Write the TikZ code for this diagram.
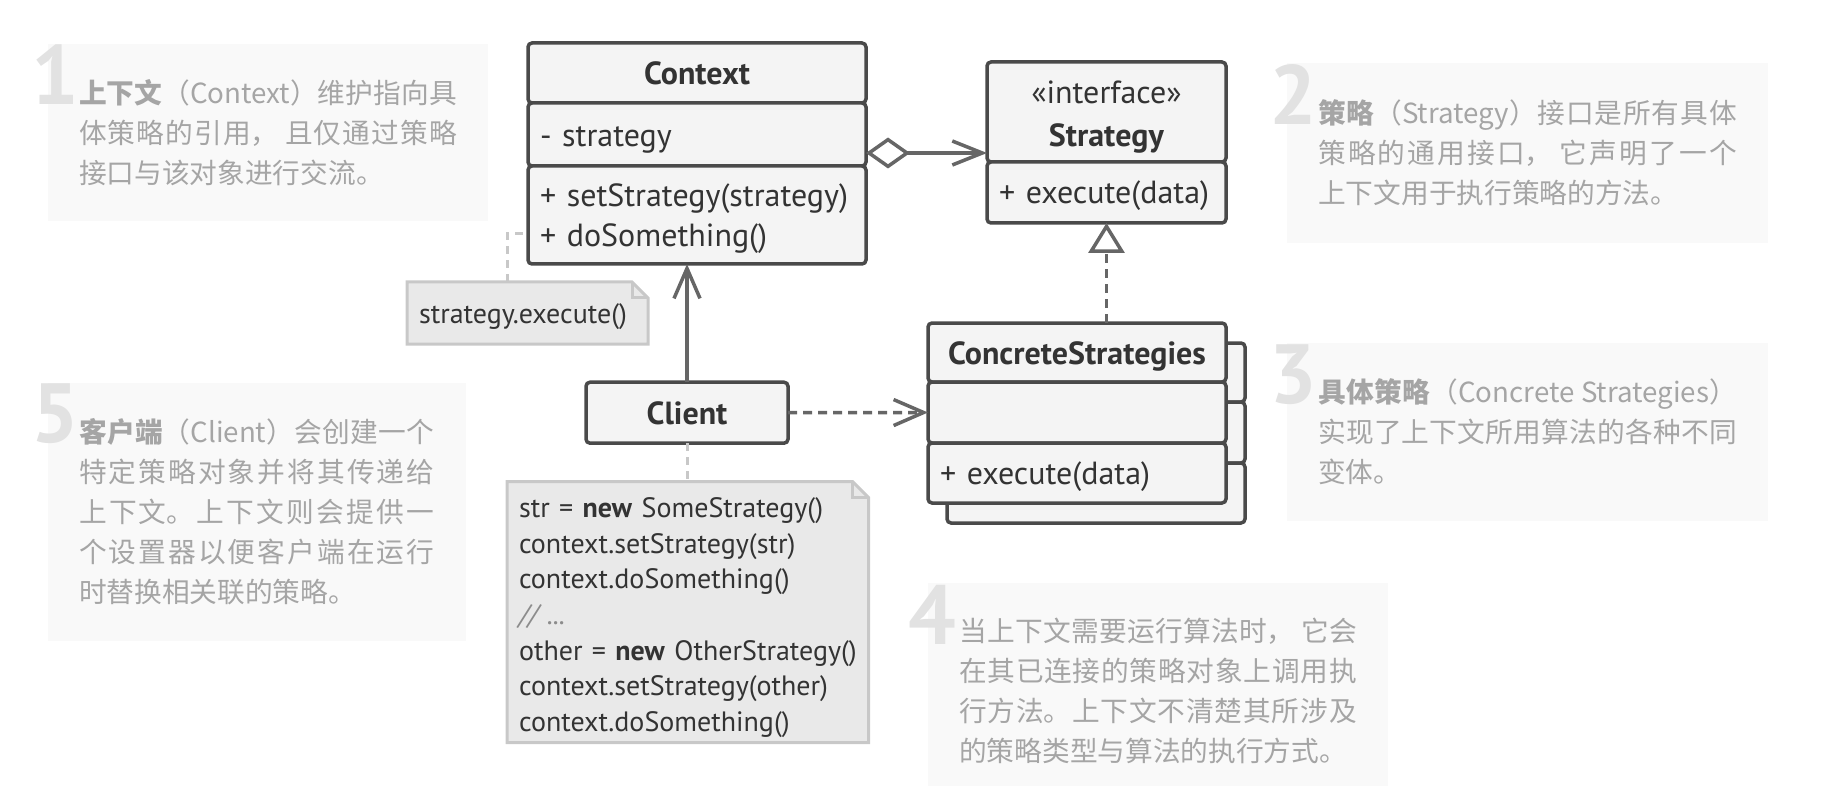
\documentclass[tikz,border=0pt]{standalone}
\usepackage{fontspec}
\setmainfont{PT Sans}
\newfontfamily\cjk{Noto Sans CJK SC}
\usetikzlibrary{arrows.meta, positioning, calc, backgrounds}

\definecolor{UmlLine}{RGB}{74,74,74}
\definecolor{UmlFill}{RGB}{244,244,244}
\definecolor{UmlText}{RGB}{51,51,51}
\definecolor{LinkGray}{RGB}{102,102,102}
\definecolor{NoteFill}{RGB}{233,233,233}
\definecolor{NoteLine}{RGB}{200,200,200}
\definecolor{ExplFill}{RGB}{249,249,249}
\definecolor{ExplText}{RGB}{165,165,165}
\definecolor{NumGray}{RGB}{226,226,226}
\definecolor{CommentGray}{RGB}{140,140,140}

\newcommand{\umlfont}{\fontsize{32}{39.6}\selectfont}
\newcommand{\codefont}{\fontsize{28}{35.7}\selectfont\hyphenpenalty=10000\relax}
\newcommand{\explfont}{\cjk\fontsize{27.7}{40}\selectfont
  \XeTeXlinebreaklocale "zh"\XeTeXlinebreakskip=0pt plus 8pt\tolerance=9999\relax}

\begin{document}
\begin{tikzpicture}[x=1pt, y=-1pt,
    uml/.style={draw=UmlLine, fill=UmlFill, line width=3.5pt, rounded corners=4pt,
                outer sep=0pt, text=UmlText, font=\umlfont},
    umlhead/.style={uml, align=center, inner sep=0pt,
                    execute at begin node={\rule{0pt}{24pt}}},
    umlpart/.style={uml, align=left, inner xsep=12pt, inner ysep=0pt,
                    execute at begin node={\rule{0pt}{30pt}}},
    codenote/.style={anchor=north west, outer sep=0pt, inner xsep=12pt, inner ysep=0pt,
                     align=left, text=UmlText, font=\codefont},
    notelink/.style={draw=NoteLine, line width=3pt, dash pattern=on 8pt off 6pt},
    link/.style={draw=LinkGray, line width=3.5pt},
    dashlink/.style={link, dash pattern=on 9pt off 6pt},
    openhead/.style={-{Straight Barb[length=30pt, width=26pt]}},
    expl/.style={fill=ExplFill, anchor=north west, inner xsep=31pt, inner ysep=0pt,
                 align=justify, text=ExplText, font=\explfont},
    numeral/.style={anchor=north west, inner sep=0pt, text=NumGray,
                    font=\fontsize{84}{84}\selectfont\bfseries}]
  \useasboundingbox (0,0) rectangle (1828,786);

  % explanations
  \node[expl, text width=378, minimum height=177] (expl1) at (47.8,44.3)
    {\textbf{上下文}（Context）维护指向具\linebreak
     体策略的引用， 且仅通过策略\linebreak
     接口与该对象进行交流。};
  \node[numeral] (num1) at (31,44.3) {1};

  \node[expl, text width=418.5, minimum height=179.5] (expl2) at (1287,63)
    {\textbf{策略}（Strategy）接口是所有具体\linebreak
     策略的通用接口， 它声明了一个\linebreak
     上下文用于执行策略的方法。};
  \node[numeral] (num2) at (1269,64) {2};

  \node[expl, text width=418.5, minimum height=178.3] (expl3) at (1287,342.7)
    {\textbf{具体策略}（Concrete Strategies）\linebreak
     实现了上下文所用算法的各种不同\linebreak
     变体。};
  \node[numeral] (num3) at (1269,344) {3};

  \node[expl, text width=397.5, minimum height=216] (expl4) at (928,583)
    {当上下文需要运行算法时， 它会\linebreak
     在其已连接的策略对象上调用执\linebreak
     行方法。上下文不清楚其所涉及\linebreak
     的策略类型与算法的执行方式。};
  \node[numeral] (num4) at (908,585) {4};

  \node[expl, text width=355.5, minimum height=258.8] (expl5) at (47.8,382.4)
    {\textbf{客户端}（Client）会创建一个\linebreak
     特定策略对象并将其传递给\linebreak
     上下文。上下文则会提供一\linebreak
     个设置器以便客户端在运行\linebreak
     时替换相关联的策略。};
  \node[numeral] (num5) at (31,383.5) {5};

  % Context
  \node[umlhead, minimum width=338, minimum height=60] (ctx) at (697,73) {\bfseries Context};
  \node[umlpart, text width=314, minimum height=63, below=0pt of ctx] (ctxattr) {- strategy};
  \node[umlpart, text width=314, minimum height=98, below=0pt of ctxattr] (ctxops)
    {+ setStrategy(strategy)\\+ doSomething()};

  % Strategy
  \node[umlhead, minimum width=239, minimum height=100, font=\fontsize{32}{43}\selectfont] (strat)
    at (1106.5,112) {\rule{0pt}{33pt}«interface»\\\textbf{Strategy}};
  \node[umlpart, text width=215, minimum height=61, below=0pt of strat] (stratops) {+ execute(data)};

  % ConcreteStrategies (stacked copy behind)
  \node[umlhead, minimum width=298, minimum height=59] (csbackh) at (1096,372.5) {};
  \node[umlpart, text width=274, minimum height=61, below=0pt of csbackh] (csbacke) {};
  \node[umlpart, text width=274, minimum height=60, below=0pt of csbacke] (csbacko) {};
  \node[umlhead, minimum width=298, minimum height=59] (cs) at (1077,352.5)
    {\rule{0pt}{30pt}\bfseries ConcreteStrategies};
  \node[umlpart, text width=274, minimum height=61, below=0pt of cs] (csempty) {};
  \node[umlpart, text width=274, minimum height=60, below=0pt of csempty] (csops) {+ execute(data)};

  % Client
  \node[umlhead, minimum width=202, minimum height=61] (client) at (687,412.7) {\bfseries Client};

  % notes
  \node[codenote, text width=217, minimum height=62] (execnote) at (407,282)
    {\rule{0pt}{27pt}strategy.execute()};
  \node[codenote, text width=337.5, minimum height=261] (codebox) at (507,481.5)
    {\rule{0pt}{31pt}str = \textbf{new} SomeStrategy()\\
     context.setStrategy(str)\\
     context.doSomething()\\
     \textcolor{CommentGray}{\itshape // ...}\\
     \mbox{other = \textbf{new} OtherStrategy()}\\
     context.setStrategy(other)\\
     context.doSomething()};
  \begin{scope}[on background layer]
    \foreach \n in {execnote, codebox} {
      \filldraw[fill=NoteFill, draw=NoteLine, line width=3pt]
        (\n.north west) -- ([xshift=-16pt]\n.north east) -- ([yshift=-16pt]\n.north east)
        -- (\n.south east) -- (\n.south west) -- cycle;
      \draw[NoteLine, line width=3pt] ([xshift=-16pt]\n.north east) |- ([yshift=-16pt]\n.north east);
    }
  \end{scope}

  % connectors
  \coordinate (aggl) at ([yshift=13pt]ctxattr.south east);
  \draw[link, {Diamond[length=44pt, width=31pt, fill=white]}-{Straight Barb[length=30pt, width=24pt]}]
    (aggl) -- (aggl -| strat.west);
  \draw[dashlink, -{Triangle[length=30pt, width=36pt, fill=white]}]
    (cs.north -| stratops.south) -- (stratops.south);
  \draw[link, openhead] (client.north) -- (client.north |- ctxops.south);
  \draw[dashlink, openhead] (client.east) -- (csempty.west);
  \draw[notelink] ([xshift=100pt]execnote.north west) |- ([yshift=30pt]ctxops.south west);
  \draw[notelink] (client.south) -- (client.south |- codebox.north);
\end{tikzpicture}
\end{document}
